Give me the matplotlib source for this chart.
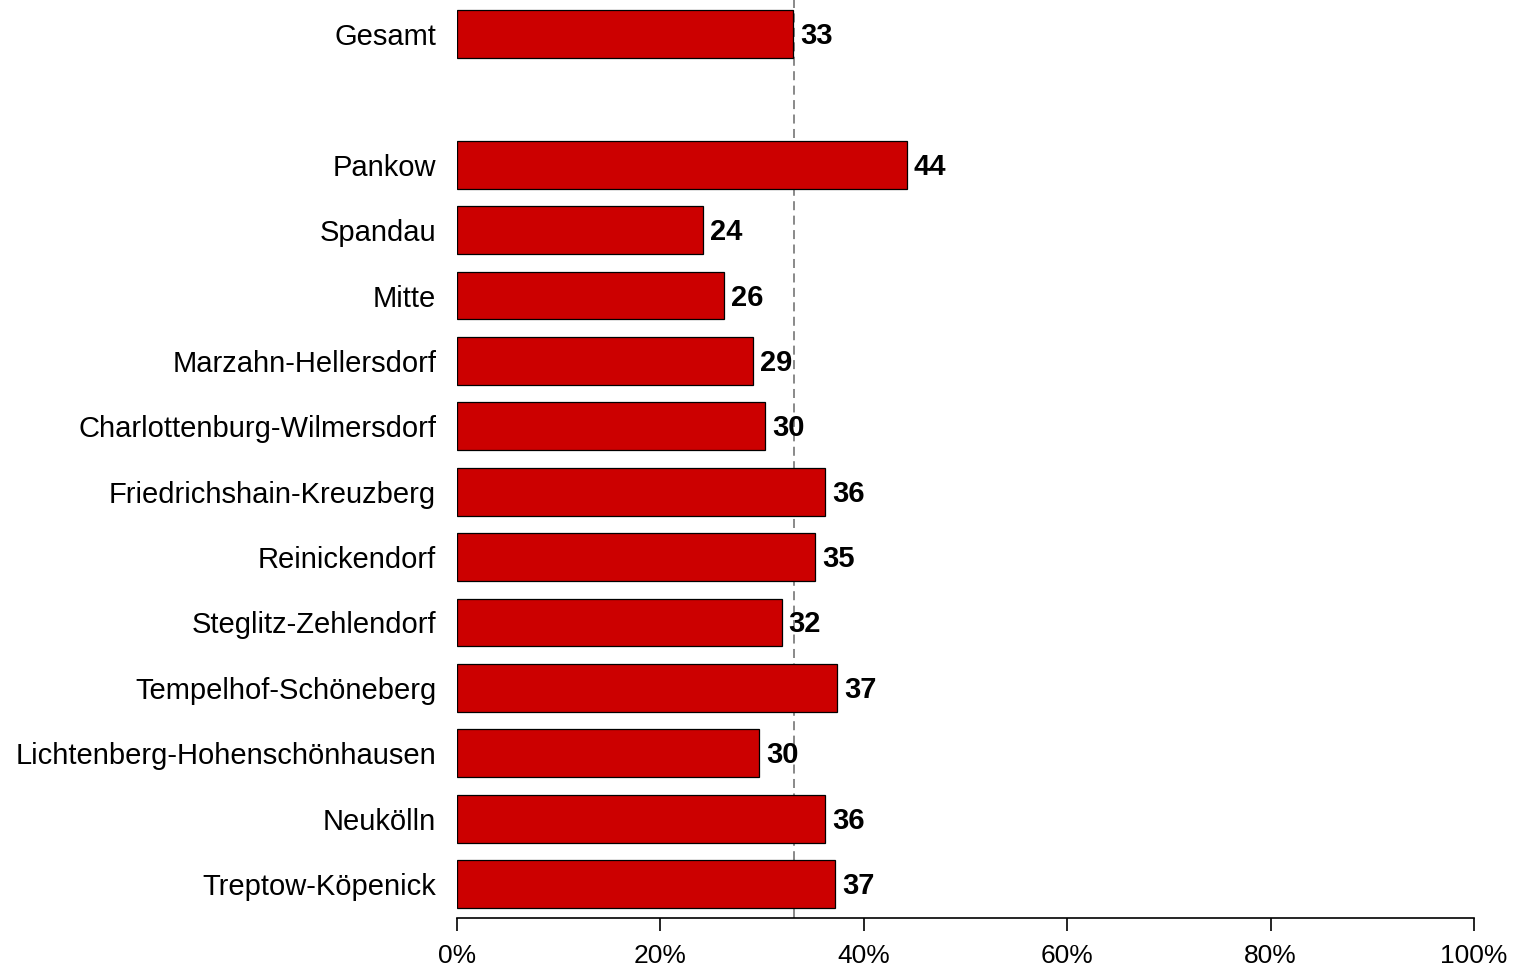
import matplotlib
matplotlib.use('Agg')
import matplotlib.pyplot as plt
import numpy as np

plt.rcParams['font.family'] = ['Liberation Sans', 'DejaVu Sans']

# Daten
kategorien = ['Gesamt', '', 'Pankow', 'Spandau', 'Mitte', 'Marzahn-Hellersdorf',
              'Charlottenburg-Wilmersdorf', 'Friedrichshain-Kreuzberg', 'Reinickendorf',
              'Steglitz-Zehlendorf', 'Tempelhof-Schöneberg',
              'Lichtenberg-Hohenschönhausen', 'Neukölln', 'Treptow-Köpenick']
werte = [33.0, None, 44.2, 24.2, 26.2, 29.1, 30.3, 36.2, 35.2, 31.9, 37.4, 29.7, 36.2, 37.2]
labels = ['33', '', '44', '24', '26', '29', '30', '36', '35', '32', '37', '30', '36', '37']
mittel = 33.1
xticks = [0, 20, 40, 60, 80, 100]

fig = plt.figure(figsize=(15.15, 9.69), dpi=100)
ax = fig.add_axes([0.3017, 0.0526, 0.6713, 0.9474])

pos = np.arange(len(kategorien))
for p, w, l in zip(pos, werte, labels):
    if w is None:
        continue
    ax.barh(p, w, height=0.73, color='#CC0000', edgecolor='black', linewidth=0.9, zorder=2)
    ax.text(w + 0.7, p + 0.03, l, va='center', ha='left', fontsize=21, fontweight='bold', zorder=4)

ax.axvline(mittel, color='#808080', ls=(0, (5, 3)), lw=1.3, zorder=1)

ax.set_ylim(13.52, -0.52)
ax.set_xlim(0, 100)
ax.set_yticks(pos)
ax.set_yticklabels(kategorien, fontsize=21)
ax.tick_params(axis='y', length=0, pad=15)
ax.set_xticks(xticks)
ax.set_xticklabels(['%d%%' % x for x in xticks], fontsize=19)
ax.tick_params(axis='x', length=9, width=1.2, direction='out', pad=10)

for s in ['top', 'right', 'left']:
    ax.spines[s].set_visible(False)
ax.spines['bottom'].set_linewidth(1.2)

fig.savefig('out.png', dpi=100)
